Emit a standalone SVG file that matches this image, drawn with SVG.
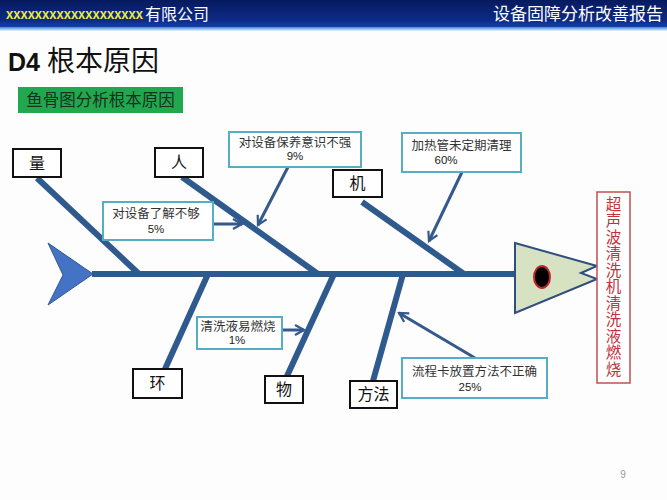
<svg xmlns="http://www.w3.org/2000/svg" width="667" height="500" viewBox="0 0 667 500">
<defs>
<linearGradient id="hdr" x1="0" y1="0" x2="0" y2="1">
<stop offset="0" stop-color="#061a5e"/>
<stop offset="0.75" stop-color="#0d2a86"/>
<stop offset="1" stop-color="#1840a8"/>
</linearGradient>
<linearGradient id="hdr2" x1="0" y1="0" x2="0" y2="1">
<stop offset="0" stop-color="#2f8fe0"/>
<stop offset="1" stop-color="#e8f4fc"/>
</linearGradient>
<marker id="arr" viewBox="0 0 12 12" refX="10" refY="6" markerWidth="12" markerHeight="12" markerUnits="userSpaceOnUse" orient="auto">
<path d="M1,1 L10,6 L1,11" fill="none" stroke="#34598a" stroke-width="2.2"/>
</marker>
</defs>
<style>
.cj{font-family:"Noto Sans CJK SC","Liberation Sans",sans-serif}
.bone{stroke:#2f5a8e;stroke-width:6;fill:none;stroke-linecap:butt}
.lbl{fill:#fff;stroke:#111;stroke-width:2}
.lt{font-size:16px;fill:#111;text-anchor:middle}
.co{fill:#fff;stroke:#55aec3;stroke-width:2}
.ct{font-size:12.5px;fill:#333;text-anchor:middle}
.cp{font-family:"Liberation Sans",sans-serif;font-size:11.5px;fill:#222;text-anchor:middle}
.ar{stroke:#34598a;stroke-width:3;fill:none;marker-end:url(#arr)}
.rt{font-size:15.5px;fill:#c0333b;writing-mode:vertical-rl;text-orientation:upright;letter-spacing:1px}
</style>
<rect width="667" height="500" fill="#fdfdfd"/>
<g id="header">
<rect x="0" y="0" width="667" height="27" fill="url(#hdr)"/>
<rect x="0" y="27" width="667" height="4" fill="url(#hdr2)"/>
<text x="6" y="19" font-family="Liberation Sans,sans-serif" font-weight="bold" font-size="14" fill="#f2ea3c" textLength="137" lengthAdjust="spacingAndGlyphs">xxxxxxxxxxxxxxxxxxx</text>
<text x="145" y="20" class="cj" font-size="16" fill="#fff">有限公司</text>
<text x="663" y="20" class="cj" font-size="17" fill="#fff" text-anchor="end">设备固障分析改善报告</text>
</g>
<g id="title">
<text x="8" y="71" font-family="Liberation Sans,sans-serif" font-weight="bold" font-size="25" fill="#111">D4</text>
<text x="47" y="71" class="cj" font-size="28" fill="#111">根本原因</text>
</g>
<g id="subtitle">
<rect x="18" y="87" width="165" height="26" fill="#21a84f"/>
<text x="100.5" y="106" class="cj" font-size="16.5" fill="#16301f" text-anchor="middle">鱼骨图分析根本原因</text>
</g>
<g id="connectors">
<line class="bone" x1="92" y1="274" x2="516" y2="274"/>
<line class="bone" x1="37" y1="178" x2="139" y2="274"/>
<line class="bone" x1="182" y1="177" x2="318" y2="274"/>
<line class="bone" x1="362" y1="202" x2="464" y2="274"/>
<line class="bone" x1="208" y1="274" x2="165" y2="369"/>
<line class="bone" x1="334" y1="274" x2="287" y2="376"/>
<line class="bone" x1="403" y1="274" x2="373" y2="381"/>
<line class="ar" x1="288" y1="167" x2="258" y2="225"/>
<line class="ar" x1="213" y1="224" x2="242" y2="224"/>
<line class="ar" x1="462" y1="172" x2="429" y2="241"/>
<line class="ar" x1="282" y1="330" x2="304" y2="330"/>
<line class="ar" x1="475" y1="358" x2="399" y2="313"/>
</g>
<g id="tail">
<polygon points="48,243 93,274 48,305 63,275" fill="#4472c4" stroke="#2f5a8e" stroke-width="1"/>
</g>
<g id="head">
<polygon points="515,243 597,266 581,273 597,279 515,313" fill="#d6e2c2" stroke="#2e4f7f" stroke-width="2"/>
<ellipse cx="542" cy="277" rx="8" ry="11" fill="#000" stroke="#c0282d" stroke-width="2"/>
</g>
<g id="result">
<rect x="597" y="192" width="33" height="191" fill="#fff" stroke="#c0504d" stroke-width="1.5"/>
<text class="cj rt" x="613.5" y="196">超声波清洗机清洗液燃烧</text>
</g>
<g id="n-liang"><rect class="lbl" x="13" y="149" width="48" height="28"/><text class="cj lt" x="37" y="169">量</text></g>
<g id="n-ren"><rect class="lbl" x="155" y="148" width="48" height="29"/><text class="cj lt" x="179" y="168">人</text></g>
<g id="n-ji"><rect class="lbl" x="333" y="170" width="49" height="27"/><text class="cj lt" x="357.5" y="189">机</text></g>
<g id="n-huan"><rect class="lbl" x="133" y="369" width="49" height="29"/><text class="cj lt" x="157.5" y="389">环</text></g>
<g id="n-wu"><rect class="lbl" x="265" y="376" width="38" height="27"/><text class="cj lt" x="284" y="395">物</text></g>
<g id="n-fangfa"><rect class="lbl" x="350" y="381" width="47" height="27"/><text class="cj lt" x="373.5" y="400">方法</text></g>
<g id="c-baoyang"><rect class="co" x="229" y="132" width="132" height="35"/><text class="cj ct" x="295" y="147">对设备保养意识不强</text><text class="cp" x="295" y="160">9%</text></g>
<g id="c-liaojie"><rect class="co" x="103" y="202" width="110" height="38"/><text class="cj ct" x="156" y="218">对设备了解不够</text><text class="cp" x="156" y="233">5%</text></g>
<g id="c-jiare"><rect class="co" x="402" y="133" width="119" height="39"/><text class="cj ct" x="461.5" y="150">加热管未定期清理</text><text class="cp" x="446" y="164">60%</text></g>
<g id="c-qingxi"><rect class="co" x="197" y="317" width="85" height="32"/><text class="cj ct" x="238" y="331" font-size="11px">清洗液易燃烧</text><text class="cp" x="237" y="344" font-size="10.5px">1%</text></g>
<g id="c-liucheng"><rect class="co" x="402" y="358" width="145" height="40"/><text class="cj ct" x="474.5" y="376">流程卡放置方法不正确</text><text class="cp" x="470" y="391">25%</text></g>
<text x="623" y="478" font-family="Liberation Sans,sans-serif" font-size="10" fill="#999" text-anchor="middle">9</text>
</svg>
